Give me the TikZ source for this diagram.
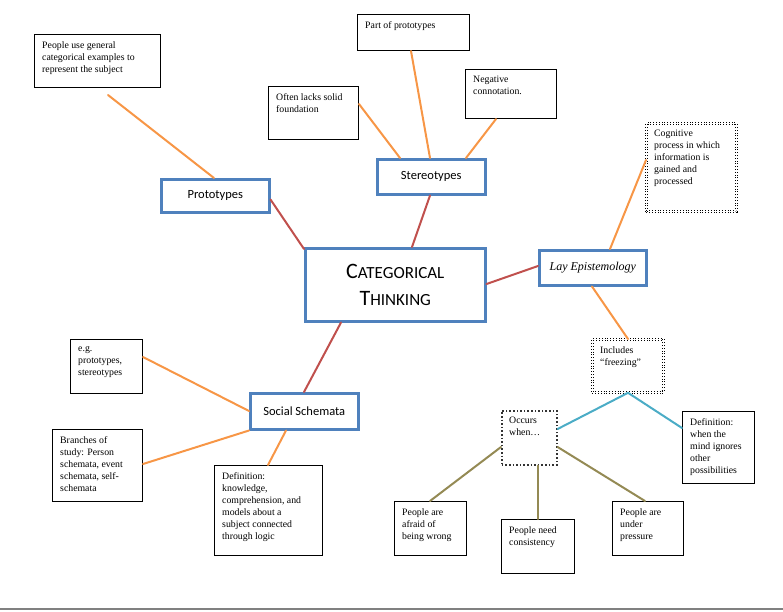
\documentclass[tikz,border=0pt]{standalone}
\usepackage{fontspec}
\setmainfont{Liberation Serif}
\newfontfamily\calfnt{Carlito}
\usetikzlibrary{shadows,calc}
\definecolor{bblue}{RGB}{79,129,189}
\definecolor{dred}{RGB}{192,80,77}
\definecolor{orng}{RGB}{247,150,70}
\definecolor{tealc}{RGB}{75,172,198}
\definecolor{olive}{RGB}{148,138,84}
\tikzset{
 main/.style={draw=bblue,line width=2.5pt,fill=white,drop shadow={opacity=0.25,shadow xshift=2pt,shadow yshift=-2pt},font=\calfnt\fontsize{12.5}{14}\selectfont},
 note/.style={draw=black,line width=1pt,fill=white},
 dnote/.style={draw=black,line width=0.8pt,dotted,double,double distance=1.6pt,fill=white},
 onote/.style={draw=black!80,line width=1.6pt,dotted,fill=white},
 txt/.style={anchor=north west,inner sep=0pt,xshift=8pt,yshift=-7pt,align=left,font=\fontsize{9.8}{12}\selectfont},
 rl/.style={draw=dred,line width=2pt},
 ol/.style={draw=orng,line width=2pt},
 tl/.style={draw=tealc,line width=2pt},
 gl/.style={draw=olive,line width=2pt},
}
\newcommand\nbox[7]{\node[#6,anchor=north west,minimum width={#4pt-#2pt},minimum height={#5pt-#3pt},inner sep=0pt,label={[txt]north west:{#7}}] (#1) at (#2,#3) {};}
\begin{document}
\begin{tikzpicture}[x=1pt,y=-1pt]
\useasboundingbox (0,0) rectangle (783,611);
\draw[gray,line width=2pt] (0,609) -- (783,609);
% main boxes
\node[main,anchor=north west,minimum width=108pt,minimum height=33pt] (proto) at (160,178) {Prototypes};
\node[main,anchor=north west,minimum width=108pt,minimum height=35pt] (stereo) at (376,158) {Stereotypes};
\node[main,anchor=north west,minimum width=107pt,minimum height=35pt,font=\itshape\fontsize{12}{14}\selectfont] (lay) at (538,249) {Lay Epistemology};
\node[main,anchor=north west,minimum width=108pt,minimum height=36pt] (social) at (249,392) {Social Schemata};
\node[main,anchor=north west,minimum width=180pt,minimum height=73pt,align=center,font=\calfnt\fontsize{22}{27}\selectfont] (center) at (304,247) {C{\fontsize{17}{27}\selectfont ATEGORICAL}\\T{\fontsize{17}{27}\selectfont HINKING}};
% notes
\nbox{use}{34}{34}{160}{87}{note}{People use general\\categorical examples to\\represent the subject}
\nbox{part}{357}{14}{469}{50}{note}{Part of prototypes}
\nbox{lacks}{268}{86}{358}{139}{note}{Often lacks solid\\foundation}
\nbox{neg}{465}{69}{556}{118}{note}{Negative\\connotation.}
\nbox{cog}{646}{123}{736}{211}{dnote}{Cognitive\\process in which\\information is\\gained and\\processed}
\nbox{incl}{592}{339}{663}{392}{dnote}{Includes\\``freezing''}
\nbox{occ}{501}{410}{556}{464}{onote}{Occurs\\when…}
\nbox{defm}{682}{411}{754}{483}{note}{Definition:\\when the\\mind ignores\\other\\possibilities}
\nbox{eg}{70}{339}{142}{393}{note}{e.g.\\prototypes,\\stereotypes}
\nbox{br}{52}{429}{142}{501}{note}{Branches of\\study: Person\\schemata, event\\schemata, self-\\schemata}
\nbox{defk}{214}{465}{322}{555}{note}{Definition:\\knowledge,\\comprehension, and\\models about a\\subject connected\\through logic}
\nbox{afr}{394}{501}{466}{555}{note}{People are\\afraid of\\being wrong}
\nbox{cons}{501}{519}{574}{573}{note}{People need\\consistency}
\nbox{pres}{612}{501}{683}{555}{note}{People are\\under\\pressure}
% lines
\begin{scope}[line cap=round]
\draw[rl] ($(center.north west)+(0,2)$) -- ($(proto.south east)+(0,-14)$);
\draw[rl] ($(center.north west)+(108,0)$) -- ($(stereo.south west)+(54,0)$);
\draw[rl] ($(center.north east)+(0,37)$) -- ($(lay.north west)+(0,17)$);
\draw[rl] ($(center.south west)+(37,0)$) -- ($(social.north west)+(55,0)$);
\draw[ol] ($(use.south west)+(74,7)$) -- ($(proto.north west)+(54,0)$);
\draw[ol] ($(part.south west)+(54,0)$) -- ($(stereo.north west)+(54,0)$);
\draw[ol] ($(lacks.north east)+(0,18)$) -- ($(stereo.north west)+(24,0)$);
\draw[ol] ($(neg.south west)+(31,0)$) -- ($(stereo.north west)+(90,0)$);
\draw[ol] ($(cog.north west)+(0,37)$) -- ($(lay.north west)+(72,0)$);
\draw[ol] ($(lay.south west)+(54,0)$) -- ($(incl.north west)+(36,0)$);
\draw[ol] ($(eg.north east)+(0,18)$) -- ($(social.north west)+(0,19)$);
\draw[ol] ($(br.north east)+(0,35)$) -- (social.south west);
\draw[ol] ($(social.south west)+(37,0)$) -- ($(defk.north west)+(54,0)$);
\draw[tl] ($(incl.south west)+(36,0)$) -- ($(occ.north east)+(0,19)$);
\draw[tl] ($(incl.south west)+(36,0)$) -- ($(defm.north west)+(0,17)$);
\draw[gl] ($(occ.north west)+(0,37)$) -- ($(afr.north west)+(36,0)$);
\draw[gl] ($(occ.south west)+(37,0)$) -- ($(cons.north west)+(37,0)$);
\draw[gl] ($(occ.north east)+(0,37)$) -- ($(pres.north west)+(33,0)$);
\end{scope}
\end{tikzpicture}
\end{document}
